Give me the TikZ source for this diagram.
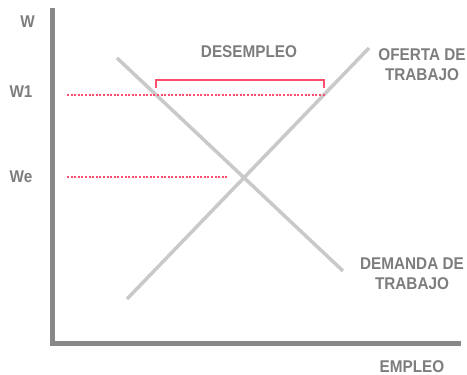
\documentclass[tikz,border=0pt]{standalone}
\usepackage{fontspec}
\setmainfont[FakeStretch=0.9]{Liberation Sans}
\begin{document}
\begin{tikzpicture}[x=1pt,y=-1pt,
  lbl/.style={inner sep=0pt,text=labelgray,font=\bfseries\fontsize{17}{20}\selectfont,align=center},
  axisline/.style={draw=axisgray,line width=5pt},
  curve/.style={draw=curvegray,line width=3.5pt},
  guide/.style={draw=pinkred,line width=2pt,dash pattern=on 2pt off 1.6pt},
  brace/.style={draw=pinkred,line width=1.8pt}]
\definecolor{labelgray}{HTML}{7D7D7D}
\definecolor{axisgray}{HTML}{888888}
\definecolor{curvegray}{HTML}{C9C9C9}
\definecolor{pinkred}{HTML}{FF4D6D}
\useasboundingbox (0,0) rectangle (467,375);
% axes
\coordinate (ytop) at (52.5,10);
\coordinate (orig) at (52.5,343.5);
\coordinate (xend) at (458,343.5);
\draw[axisline,line cap=rect] (ytop) -- (orig) -- (xend);
% curves
\coordinate (d1) at (117,58);
\coordinate (d2) at (343,271);
\coordinate (s1) at (127,299);
\coordinate (s2) at (369,48);
\draw[curve] (d1) -- (d2);
\draw[curve] (s1) -- (s2);
% guides
\coordinate (g1a) at (67,94.5);
\coordinate (g1b) at (326,94.5);
\coordinate (g2a) at (67,176.5);
\coordinate (g2b) at (228,176.5);
\draw[guide] (g1a) -- (g1b);
\draw[guide] (g2a) -- (g2b);
% bracket
\coordinate (b1) at (156,88);
\coordinate (b2) at (156,80);
\coordinate (b3) at (324,80);
\coordinate (b4) at (324,88);
\draw[brace] (b1) -- (b2) -- (b3) -- (b4);
% labels
\node[lbl,anchor=base] (lw) at (27.5,27) {W};
\node[lbl,anchor=base] (lw1) at (21,97) {W1};
\node[lbl,anchor=base] (lwe) at (21,182.5) {We};
\node[lbl,anchor=base] (ldes) at (249,57) {DESEMPLEO};
\node[lbl,anchor=north] (lof) at (422,48) {OFERTA DE\\TRABAJO};
\node[lbl,anchor=north] (ldem) at (412,257.5) {DEMANDA DE\\TRABAJO};
\node[lbl,anchor=base] (lemp) at (412,372) {EMPLEO};
\end{tikzpicture}
\end{document}
